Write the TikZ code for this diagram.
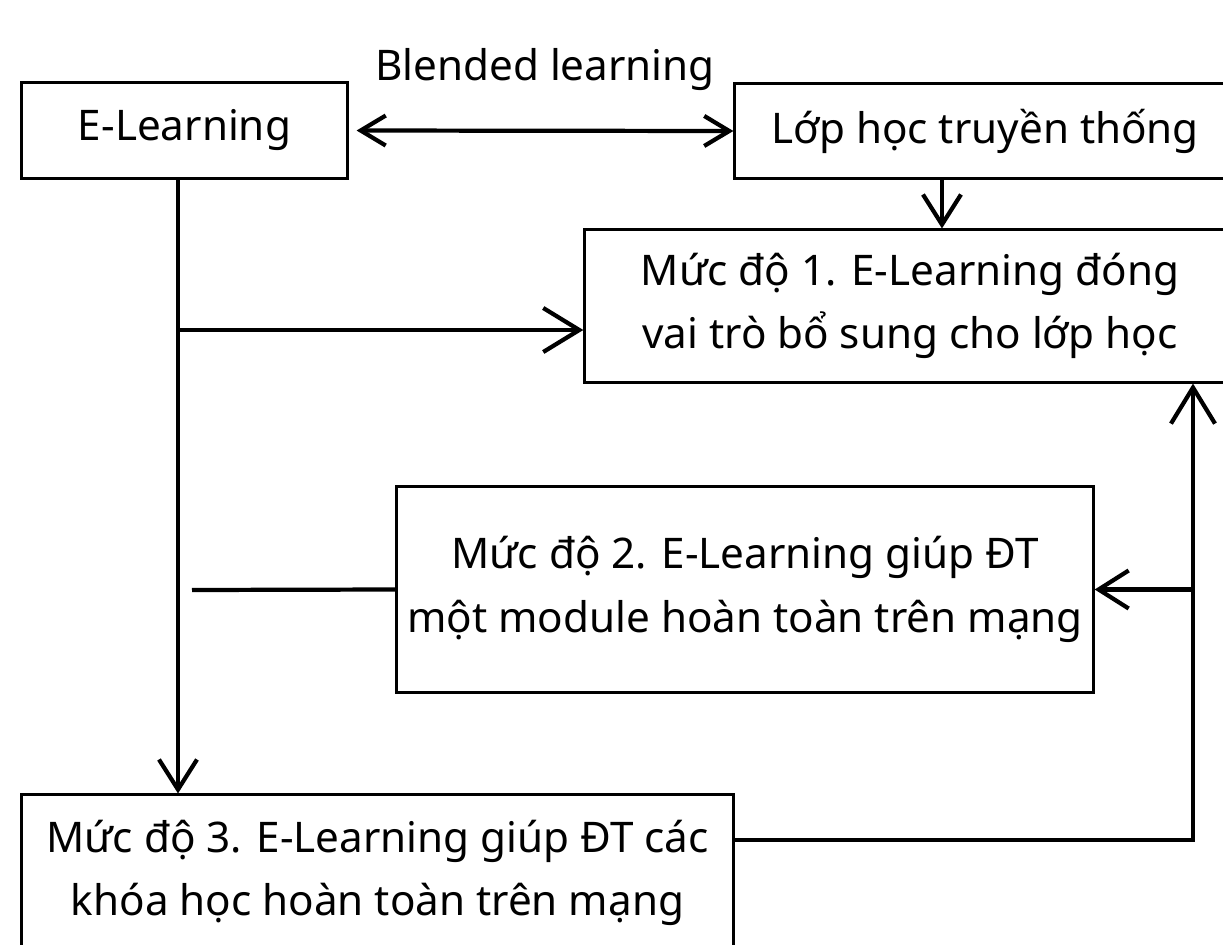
\documentclass[tikz,border=0pt]{standalone}
\usepackage{fontspec}
\setmainfont{Noto Sans}
\usetikzlibrary{arrows.meta,positioning}
\begin{document}
\begin{tikzpicture}[x=0.01cm,y=-0.01cm,
	box/.style={draw,line width=0.85pt,inner sep=0pt,align=center,font=\fontsize{12}{18}\selectfont},
	link/.style={line width=1.2pt},
	tip/.style={-{Straight Barb[length=3mm,width=3.8mm]}},
	bigtip/.style={-{Straight Barb[length=3.6mm,width=4.4mm]}}]
	\clip (0,0) rectangle (1223,945);
	\coordinate (rc) at (1193,0);
	\coordinate (j1) at (178,330);
	\coordinate (j2) at (192,590);
	
	\node[font=\fontsize{12}{18}\selectfont] (bl) at (545,70) {Blended learning};
	\node[box,minimum width=3.25cm,minimum height=0.95cm] (el) at (184.5,130.5) {E-Learning};
	\node[box,minimum width=5.0cm,minimum height=0.94cm] (lop) at (985,131) {Lớp học truyền thống};
	\node[box,minimum width=6.5cm,minimum height=1.52cm] (m1) at (910,306) {Mức độ 1. E-Learning đóng\\vai trò bổ sung cho lớp học};
	\node[box,minimum width=6.96cm,minimum height=2.05cm] (m2) at (745,589.5) {Mức độ 2. E-Learning giúp ĐT\\một module hoàn toàn trên mạng};
	\node[box,minimum width=7.11cm,minimum height=1.56cm] (m3) at (377.5,873) {Mức độ 3. E-Learning giúp ĐT các\\khóa học hoàn toàn trên mạng};
	
	\draw[link,{Straight Barb[length=2.5mm,width=3mm]}-{Straight Barb[length=2.5mm,width=3mm]}] ([xshift=0.08cm]el.east) -- (lop.west);
	\draw[link,tip] ([xshift=-0.43cm]lop.south) -- ([xshift=-0.43cm]lop.south |- m1.north);
	\draw[link,tip] ([xshift=-0.065cm]el.south) -- ([xshift=-0.065cm]el.south |- m3.north);
	\draw[link,bigtip] (j1) -- (j1 -| m1.west);
	\draw[link] (j2) -- (m2.west);
	\draw[link,bigtip] ([yshift=0.33cm]m3.east) -| (m1.south -| rc);
	\draw[link,tip] (m2.east -| rc) -- (m2.east);
\end{tikzpicture}
\end{document}
